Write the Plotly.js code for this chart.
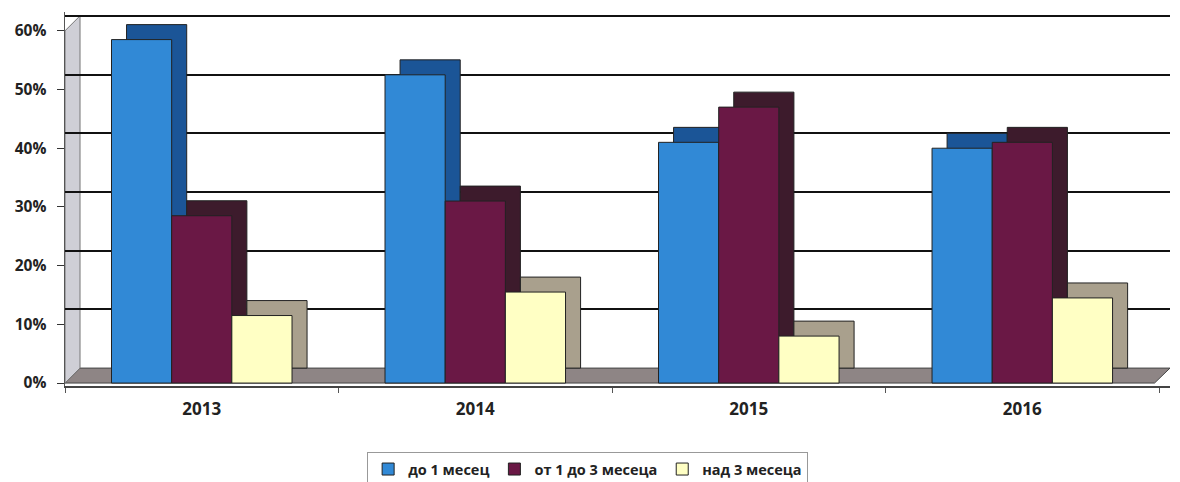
<!DOCTYPE html>
<html>
<head>
<meta charset="utf-8">
<script src="https://cdn.plot.ly/plotly-3.0.1.min.js"></script>
<style>html,body{margin:0;padding:0;background:#fff;}#chart{width:1180px;height:482px;}</style>
</head>
<body>
<div id="chart"></div>
<script>
const years = ['2013', '2014', '2015', '2016'];
const upTo1Month = [58.5, 52.5, 41, 40];
const from1to3Months = [28.5, 31, 47, 41];
const over3Months = [11.5, 15.5, 8, 14.5];
const seriesNames = ['до 1 месец', 'от 1 до 3 месеца', 'над 3 месеца'];
const yTicks = [0, 10, 20, 30, 40, 50, 60];
const yTickLabels = ['0%', '10%', '20%', '30%', '40%', '50%', '60%'];

const frontColors = ['#3189d6', '#6a1845', '#ffffc4'];
const sideColors = ['#1b5597', '#3d1b2c', '#a9a08d'];
const seriesValues = [upTo1Month, from1to3Months, over3Months];

const barW = 0.22;
const offsets = [-0.33, -0.11, 0.11];
const depthX = 0.055;
const depthY = 2.55;
const yMin = -0.5, yMax = 63.2;

const traces = [];
// depth (side/top) faces, on the back-wall axis (shifted up by the depth)
seriesValues.forEach((vals, i) => {
  traces.push({
    type: 'bar', x: years, y: vals, yaxis: 'y',
    offset: offsets[i] + depthX, width: barW,
    marker: {color: sideColors[i], line: {color: '#222', width: 1}},
    showlegend: false, hoverinfo: 'skip'
  });
});
// front faces, on the front axis
seriesValues.forEach((vals, i) => {
  traces.push({
    type: 'bar', name: seriesNames[i], x: years, y: vals, yaxis: 'y2',
    offset: offsets[i], width: barW,
    marker: {color: frontColors[i], line: {color: '#222', width: 1}}
  });
});

const layout = {
  width: 1180, height: 482,
  margin: {l: 65, r: 10, t: 12, b: 96},
  paper_bgcolor: '#fff', plot_bgcolor: 'rgba(0,0,0,0)',
  barmode: 'overlay',
  font: {family: '"Open Sans", Lato, sans-serif', color: '#222', size: 15, weight: 'bold'},
  xaxis: {
    type: 'category', range: [-0.5, 3.54],
    showline: true, linecolor: '#444', linewidth: 1.5,
    ticks: 'outside', tickson: 'boundaries', ticklen: 5, tickcolor: '#555',
    ticklabelstandoff: 7,
    showgrid: false, zeroline: false,
    tickfont: {size: 17, weight: 'bold', color: '#222'}
  },
  yaxis: {
    range: [yMin - depthY, yMax - depthY], tickvals: yTicks.slice(1),
    showticklabels: false, ticks: '', showline: false, zeroline: false,
    showgrid: true, gridcolor: '#111', gridwidth: 2
  },
  yaxis2: {
    overlaying: 'y', side: 'left',
    range: [yMin, yMax], tickvals: yTicks, ticktext: yTickLabels,
    showline: true, linecolor: '#555', linewidth: 1.5,
    ticks: 'outside', ticklen: 7, tickcolor: '#333',
    ticklabelstandoff: 7,
    showgrid: false, zeroline: false,
    tickfont: {size: 15.5, weight: 'bold', color: '#222'}
  },
  shapes: [
    {type: 'path', xref: 'paper', yref: 'y2', layer: 'between',
     path: 'M 0,0 L 0.986,0 L 1,' + depthY + ' L 0.0136,' + depthY + ' Z',
     fillcolor: '#8e8585', line: {color: '#444', width: 1}},
    {type: 'path', xref: 'paper', yref: 'y2', layer: 'between',
     path: 'M 0,0 L 0.0136,' + depthY + ' L 0.0136,' + (60 + depthY) + ' L 0,60 Z',
     fillcolor: '#cfcfd6', line: {color: '#777', width: 1}}
  ],
  legend: {
    orientation: 'h', xref: 'container', yref: 'container',
    x: 0.498, xanchor: 'center', y: 0.062, yanchor: 'top',
    bordercolor: '#999', borderwidth: 1, bgcolor: '#fff',
    font: {size: 14.5, weight: 'bold', color: '#222'},
    itemwidth: 30
  },
  showlegend: true
};

Plotly.newPlot('chart', traces, layout, {displayModeBar: false, staticPlot: true});
</script>
</body>
</html>
